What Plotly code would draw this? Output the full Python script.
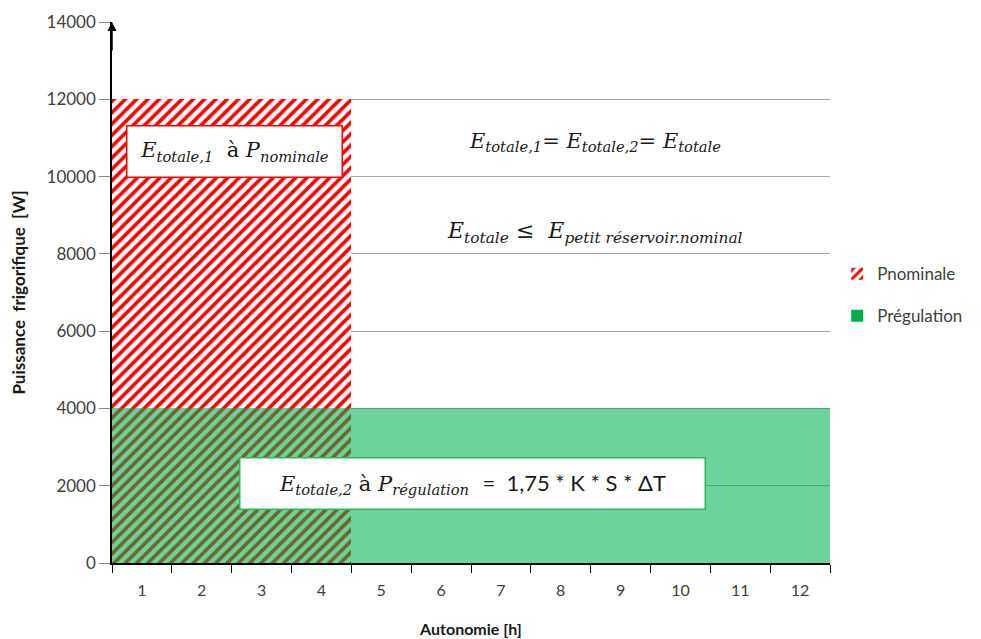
import plotly.graph_objects as go

categories = [str(i) for i in range(1, 13)]
p_nominale = [12000, 12000, 12000, 12000, 0, 0, 0, 0, 0, 0, 0, 0]
p_regulation = [4000] * 12
y_ticks = [0, 2000, 4000, 6000, 8000, 10000, 12000, 14000]

SANS = "Lato, 'Open Sans', sans-serif"
SERIF = "'DejaVu Serif', 'Liberation Serif', serif"

fig = go.Figure()
fig.add_trace(go.Bar(
    x=categories, y=p_nominale, name="Pnominale", legendgroup="a",
    marker=dict(color="white", line=dict(width=0),
                pattern=dict(shape="/", fgcolor="#ff0000", bgcolor="white",
                             fgopacity=1, size=8, solidity=0.45, fillmode="overlay")),
))
fig.add_trace(go.Bar(
    x=categories, y=p_regulation, name="Prégulation", legendgroup="b",
    marker=dict(color="rgb(0,176,80)", opacity=0.57, line=dict(width=0)),
))

fig.update_layout(
    width=973, height=631,
    margin=dict(l=104, r=151, t=14, b=76),
    paper_bgcolor="white", plot_bgcolor="white",
    barmode="overlay", bargap=0,
    font=dict(family=SANS, size=15, color="#404040"),
    legend=dict(x=1.01, y=0.495, yanchor="middle", xanchor="left",
                tracegroupgap=17, font=dict(size=17, color="#404040"),
                borderwidth=0, bgcolor="rgba(0,0,0,0)"),
    xaxis=dict(
        type="category", range=[-0.5, 11.5], tickson="boundaries",
        ticks="outside", ticklen=8, tickcolor="black", tickwidth=1,
        showline=True, linecolor="black", linewidth=1.5,
        showgrid=False, ticklabelstandoff=12, automargin=False,
        tickfont=dict(size=16, color="#404040"),
        title=dict(text="<b>Autonomie [h]</b>", font=dict(size=16, color="#1a1a1a"), standoff=26),
    ),
    yaxis=dict(
        range=[0, 14000], tickvals=y_ticks, ticktext=[str(v) for v in y_ticks],
        ticks="outside", ticklen=11, automargin=False,
        tickcolor="#888888", showline=True, linecolor="black", linewidth=1.5,
        showgrid=True, gridcolor="#a6a6a6", gridwidth=1,
        zeroline=False, tickfont=dict(size=17, color="#404040"),
        title=dict(text="<b>Puissance  frigorifique  [W]</b>", font=dict(size=17, color="#1a1a1a"), standoff=26),
    ),
)

# arrow on top of y axis
fig.add_annotation(xref="paper", yref="y", x=0, y=14000, ax=0, ay=30,
                   showarrow=True, arrowhead=2, arrowsize=1.2, arrowwidth=1.5,
                   arrowcolor="black", text="")

fig.add_annotation(
    xref="paper", yref="y", x=(234 - 112) / 718, y=10650, xanchor="center",
    text="<i>E</i><sub><i>totale,1</i></sub>  à <i>P</i><sub><i>nominale</i></sub>",
    showarrow=False, font=dict(family=SERIF, size=21, color="#1a1a1a"),
    bgcolor="white", bordercolor="#ff0000", borderwidth=1.5,
    width=212, height=48,
)
fig.add_annotation(
    xref="paper", yref="y", x=(595 - 112) / 718, y=10900, xanchor="center",
    text="<i>E</i><sub><i>totale,1</i></sub>= <i>E</i><sub><i>totale,2</i></sub>= <i>E</i><sub><i>totale</i></sub>",
    showarrow=False, font=dict(family=SERIF, size=21, color="#1a1a1a"),
)
fig.add_annotation(
    xref="paper", yref="y", x=(595 - 112) / 718, y=8550, xanchor="center",
    text="<i>E</i><sub><i>totale</i></sub> ≤  <i>E</i><sub><i>petit réservoir.nominal</i></sub>",
    showarrow=False, font=dict(family=SERIF, size=22, color="#1a1a1a"),
)
fig.add_annotation(
    xref="paper", yref="y", x=(473 - 112) / 718, y=2050, xanchor="center",
    text="<i>E</i><sub><i>totale,2</i></sub> à <i>P</i><sub><i>régulation</i></sub>  "
         "<span style='font-family:Lato;font-size:22px'>=  1,75 * K * S * ΔT</span>",
    showarrow=False, font=dict(family=SERIF, size=21, color="#1a1a1a"),
    bgcolor="white", bordercolor="#2eb85c", borderwidth=1.5,
    width=462, height=48,
)

fig.write_html("out.html")
